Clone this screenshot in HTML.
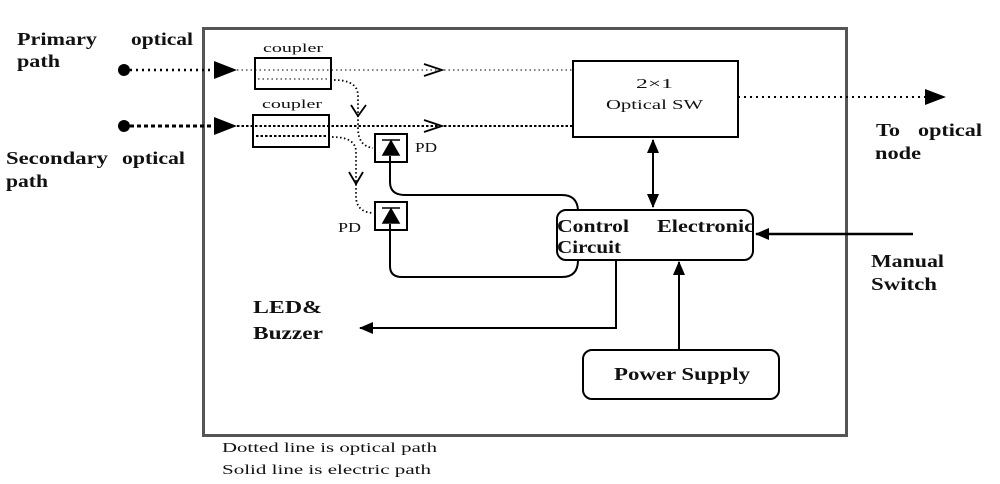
<!DOCTYPE html>
<html><head><meta charset="utf-8"><style>
body{margin:0;background:#fff;}
svg{display:block;}
text{font-family:"Liberation Serif",serif;fill:#111;}
.b{font-weight:bold;font-size:18px;}
.s{font-size:14px;}
</style></head><body>
<svg width="1000" height="484" viewBox="0 0 1000 484" xmlns="http://www.w3.org/2000/svg">
<defs>
<marker id="ah2" markerWidth="14" markerHeight="12" refX="13" refY="6" orient="auto-start-reverse" markerUnits="userSpaceOnUse"><path d="M0,0 L14,6 L0,12z" fill="#000"/></marker>
</defs>
<rect x="203.5" y="28.5" width="643" height="407" fill="none" stroke="#555" stroke-width="3"/>
<text class="b" x="17" y="45" textLength="80" lengthAdjust="spacingAndGlyphs">Primary</text><text class="b" x="131" y="45" textLength="62" lengthAdjust="spacingAndGlyphs">optical</text>
<text class="b" x="17" y="67" textLength="43" lengthAdjust="spacingAndGlyphs">path</text>
<text class="b" x="6" y="164" textLength="102" lengthAdjust="spacingAndGlyphs">Secondary</text><text class="b" x="122" y="164" textLength="63" lengthAdjust="spacingAndGlyphs">optical</text>
<text class="b" x="6" y="187" textLength="42" lengthAdjust="spacingAndGlyphs">path</text>
<circle cx="124" cy="70" r="6" fill="#000"/><circle cx="124" cy="126" r="6" fill="#000"/>
<line x1="130" y1="70" x2="215" y2="70" stroke="#000" stroke-width="2.5" stroke-dasharray="2,4"/>
<line x1="130" y1="126" x2="215" y2="126" stroke="#000" stroke-width="3" stroke-dasharray="4,3"/>
<path d="M214,61 L237,70 L214,79z" fill="#000"/><path d="M214,117 L237,126 L214,135z" fill="#000"/>
<text x="263" y="52" style="font-size:13px" textLength="60" lengthAdjust="spacingAndGlyphs">coupler</text>
<text x="262" y="108" style="font-size:13px" textLength="60" lengthAdjust="spacingAndGlyphs">coupler</text>
<rect x="255" y="58" width="76" height="31" fill="none" stroke="#000" stroke-width="2"/>
<rect x="253" y="115" width="76" height="32" fill="none" stroke="#000" stroke-width="2"/>
<line x1="237" y1="70" x2="573" y2="70" stroke="#000" stroke-width="1" stroke-dasharray="1.5,3"/>
<line x1="258" y1="79" x2="328" y2="79" stroke="#000" stroke-width="1" stroke-dasharray="1.5,3"/>
<line x1="237" y1="126" x2="573" y2="126" stroke="#000" stroke-width="2" stroke-dasharray="2.5,2"/>
<line x1="256" y1="136" x2="326" y2="136" stroke="#000" stroke-width="2" stroke-dasharray="2.5,2"/>
<path d="M424,64 L442,70 L424,76 M424,120 L442,126 L424,132" fill="none" stroke="#000" stroke-width="1.8"/>
<path d="M334,80 Q358,80 358,96 L358,128 Q358,146 373,148" fill="none" stroke="#000" stroke-width="1.8" stroke-dasharray="1.5,2.5"/>
<path d="M351,105 L358,116 L366,105" fill="none" stroke="#000" stroke-width="1.8"/>
<path d="M332,137 Q356,137 356,152 L356,196 Q356,212 373,213" fill="none" stroke="#000" stroke-width="1.8" stroke-dasharray="1.5,2.5"/>
<path d="M349,172 L356,184 L363,172" fill="none" stroke="#000" stroke-width="1.8"/>
<rect x="375" y="134" width="32" height="28" fill="none" stroke="#000" stroke-width="2"/>
<rect x="375" y="202" width="32" height="28" fill="none" stroke="#000" stroke-width="2"/>
<path d="M382,140 L400,140 M391,141 L383,155 L399,155z" fill="#000" stroke="#000" stroke-width="1.5"/>
<path d="M382,208 L400,208 M391,209 L383,223 L399,223z" fill="#000" stroke="#000" stroke-width="1.5"/>
<text class="s" x="415" y="152" textLength="22" lengthAdjust="spacingAndGlyphs">PD</text><text class="s" x="338" y="232" textLength="23" lengthAdjust="spacingAndGlyphs">PD</text>
<path d="M390,156 L390,182 Q390,195 405,195 L562,195 Q577,195 578,210" fill="none" stroke="#000" stroke-width="2"/>
<path d="M390,224 L390,266 Q390,277 402,277 L562,277 Q578,277 578,260" fill="none" stroke="#000" stroke-width="2"/>
<rect x="573" y="61" width="165" height="76" fill="#fff" stroke="#000" stroke-width="2"/>
<text class="s" x="636" y="88" fill="#333" textLength="37" lengthAdjust="spacingAndGlyphs">2×1</text>
<text class="s" x="606" y="109" fill="#333" textLength="97" lengthAdjust="spacingAndGlyphs">Optical SW</text>
<line x1="738" y1="97" x2="928" y2="97" stroke="#000" stroke-width="2" stroke-dasharray="2,4"/>
<path d="M925,89 L946,97 L925,105z" fill="#000"/>
<text class="b" x="876" y="136" textLength="24" lengthAdjust="spacingAndGlyphs">To</text><text class="b" x="918" y="136" textLength="64" lengthAdjust="spacingAndGlyphs">optical</text>
<text class="b" x="875" y="159" textLength="46" lengthAdjust="spacingAndGlyphs">node</text>
<rect x="557" y="210" width="196" height="50" rx="9" fill="#fff" stroke="#000" stroke-width="2"/>
<text class="b" x="557" y="232" textLength="72" lengthAdjust="spacingAndGlyphs">Control</text><text class="b" x="657" y="232" textLength="97" lengthAdjust="spacingAndGlyphs">Electronic</text>
<text class="b" x="557" y="253" textLength="64" lengthAdjust="spacingAndGlyphs">Circuit</text>
<line x1="653" y1="140" x2="653" y2="207" stroke="#000" stroke-width="2" marker-start="url(#ah2)" marker-end="url(#ah2)"/>
<line x1="913" y1="234" x2="756" y2="234" stroke="#000" stroke-width="2.5" marker-end="url(#ah2)"/>
<text class="b" x="871" y="267" textLength="73" lengthAdjust="spacingAndGlyphs">Manual</text><text class="b" x="871" y="290" textLength="66" lengthAdjust="spacingAndGlyphs">Switch</text>
<rect x="583" y="350" width="196" height="49" rx="9" fill="#fff" stroke="#000" stroke-width="2"/>
<text class="b" x="614" y="380" textLength="136" lengthAdjust="spacingAndGlyphs">Power Supply</text>
<line x1="679" y1="350" x2="679" y2="262" stroke="#000" stroke-width="2" marker-end="url(#ah2)"/>
<path d="M616,261 L616,328 L360,328" fill="none" stroke="#000" stroke-width="2" marker-end="url(#ah2)"/>
<text class="b" x="253" y="313" textLength="69" lengthAdjust="spacingAndGlyphs">LED&amp;</text><text class="b" x="253" y="339" textLength="70" lengthAdjust="spacingAndGlyphs">Buzzer</text>
<text class="s" x="222" y="452" textLength="215" lengthAdjust="spacingAndGlyphs">Dotted line is optical path</text>
<text class="s" x="222" y="474" textLength="209" lengthAdjust="spacingAndGlyphs">Solid line is electric path</text>
</svg>
</body></html>
